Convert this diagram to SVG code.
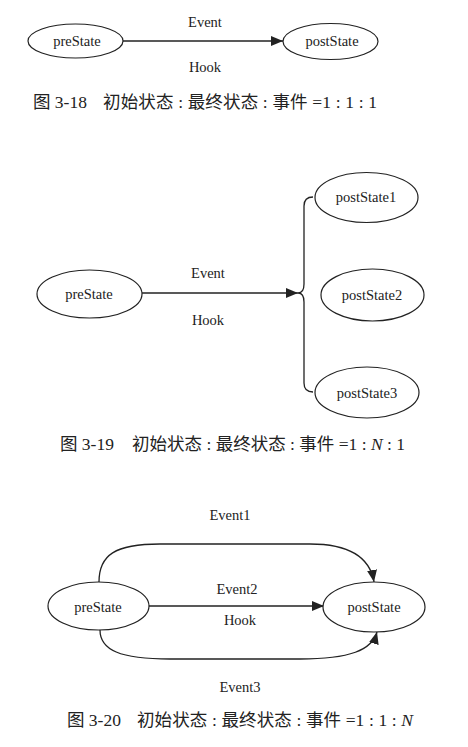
<svg xmlns="http://www.w3.org/2000/svg" width="468" height="747" viewBox="0 0 468 747">
<style>
.node{fill:#fff;stroke:#222;stroke-width:1.2}
.lbl{font-family:'Liberation Serif','Times New Roman','DejaVu Serif','Noto Sans CJK SC',serif;font-size:14.5px;fill:#222;text-anchor:middle}
.cap{font-family:'Liberation Serif','Times New Roman','DejaVu Serif','Noto Sans CJK SC',serif;font-size:17.5px;fill:#222}
.edge{fill:none;stroke:#222;stroke-width:1.3}
</style>
<defs>
<marker id="ah" viewBox="0 0 12 10" refX="12" refY="5" markerWidth="12" markerHeight="10" markerUnits="userSpaceOnUse" orient="auto">
<path d="M0,0 L12,5 L0,10 z" fill="#222"/>
</marker>
</defs>
<rect width="468" height="747" fill="#fff"/>

<g id="connectors">
<path class="edge" d="M123,41 L283,41" stroke-width="2" marker-end="url(#ah)"/>
<path class="edge" d="M142,293 L298,293" stroke-width="1.6" marker-end="url(#ah)"/>
<path class="edge" d="M313,197 Q304,197 304,206 L304,284 Q304,293 298,293 Q304,293 304,302 L304,383 Q304,392 313,392"/>
<path class="edge" d="M149,606 L324,606" marker-end="url(#ah)"/>
<path class="edge" d="M99,582 C99,555 115,544 160,544 L310,544 C350,544 370,558 374,582" marker-end="url(#ah)"/>
<path class="edge" d="M100,630 C100,650 120,659 170,659 L300,659 C350,659 372,650 377,632" marker-end="url(#ah)"/>
</g>

<g id="f1-preState"><ellipse class="node" cx="75.5" cy="41" rx="47.5" ry="17"/><text class="lbl" x="77" y="46">preState</text></g>
<g id="f1-postState"><ellipse class="node" cx="330.5" cy="41.5" rx="47.5" ry="18"/><text class="lbl" x="332" y="46">postState</text></g>
<text class="lbl" x="205" y="27">Event</text>
<text class="lbl" x="205" y="72">Hook</text>
<g id="caption-3-18">
<text class="cap" x="33" y="108">图 3-18</text>
<text class="cap" x="103" y="108" textLength="274" lengthAdjust="spacing">初始状态 : 最终状态 : 事件 =1 : 1 : 1</text>
</g>

<g id="f2-preState"><ellipse class="node" cx="89.5" cy="294" rx="52.5" ry="24"/><text class="lbl" x="89" y="299">preState</text></g>
<g id="f2-postState1"><ellipse class="node" cx="366.5" cy="197.5" rx="51.5" ry="25"/><text class="lbl" x="366" y="202">postState1</text></g>
<g id="f2-postState2"><ellipse class="node" cx="372.5" cy="295" rx="51.5" ry="26"/><text class="lbl" x="372" y="300">postState2</text></g>
<g id="f2-postState3"><ellipse class="node" cx="367" cy="392.5" rx="52" ry="25.5"/><text class="lbl" x="367" y="398">postState3</text></g>
<text class="lbl" x="208" y="278">Event</text>
<text class="lbl" x="208" y="325">Hook</text>
<g id="caption-3-19">
<text class="cap" x="60" y="450">图 3-19</text>
<text class="cap" x="132" y="450" textLength="273" lengthAdjust="spacing">初始状态 : 最终状态 : 事件 =1 : <tspan font-style="italic">N</tspan> : 1</text>
</g>

<g id="f3-preState"><ellipse class="node" cx="98.5" cy="606" rx="50.5" ry="24"/><text class="lbl" x="98" y="612">preState</text></g>
<g id="f3-postState"><ellipse class="node" cx="374" cy="607" rx="51" ry="25"/><text class="lbl" x="374" y="612">postState</text></g>
<text class="lbl" x="230" y="520">Event1</text>
<text class="lbl" x="237" y="594">Event2</text>
<text class="lbl" x="240" y="625">Hook</text>
<text class="lbl" x="240" y="692">Event3</text>
<g id="caption-3-20">
<text class="cap" x="67" y="726">图 3-20</text>
<text class="cap" x="137" y="726" textLength="276" lengthAdjust="spacing">初始状态 : 最终状态 : 事件 =1 : 1 : <tspan font-style="italic">N</tspan></text>
</g>
</svg>
